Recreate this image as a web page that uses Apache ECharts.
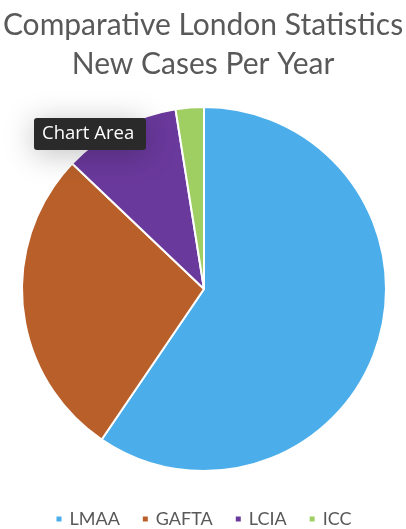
<!DOCTYPE html>
<html><head><meta charset="utf-8">
<script src="https://cdn.jsdelivr.net/npm/echarts@6/dist/echarts.min.js"></script>
<style>html,body{margin:0;padding:0;background:#fff}#c{width:406px;height:529px}</style>
</head><body><div id="c"></div>
<script>
const categories = ['LMAA', 'GAFTA', 'LCIA', 'ICC'];
const values = [59.5, 27.6, 10.4, 2.5];
const colors = ['#4BAEEA', '#B9602A', '#6A399C', '#9FCE62'];

const chart = echarts.init(document.getElementById('c'));
chart.setOption({
  animation: false,
  backgroundColor: '#ffffff',
  title: {
    text: 'Comparative London Statistics\nNew Cases Per Year',
    left: 'center', top: 1,
    textStyle: { fontFamily: 'Lato', fontSize: 30, fontWeight: 'normal', color: '#595959', lineHeight: 39 }
  },
  legend: {
    top: 505, left: 'center',
    icon: 'rect', itemWidth: 7, itemHeight: 7, itemGap: 21,
    textStyle: { fontFamily: 'Lato', fontSize: 18, color: '#595959', padding: [0, 0, 0, 2] },
    data: categories
  },
  series: [{
    type: 'pie',
    center: [204, 289], radius: 182,
    startAngle: 90, clockwise: true,
    label: { show: false }, labelLine: { show: false },
    itemStyle: { borderColor: '#ffffff', borderWidth: 2 },
    data: categories.map((c, i) => ({ name: c, value: values[i], itemStyle: { color: colors[i] } }))
  }],
  graphic: [{
    type: 'group', left: 34, top: 118, z: 100,
    children: [
      { type: 'rect', z: 100, shape: { x: 0, y: 0, width: 112, height: 32, r: 3 },
        style: { fill: '#2a2a2a', shadowBlur: 30, shadowColor: 'rgba(0,0,0,0.25)', shadowOffsetY: 4 } },
      { type: 'text', z: 101, x: 8, y: 16,
        style: { text: 'Chart Area', fill: '#ffffff', font: '18.5px "Open Sans"', verticalAlign: 'middle' } }
    ]
  }]
});
</script></body></html>
